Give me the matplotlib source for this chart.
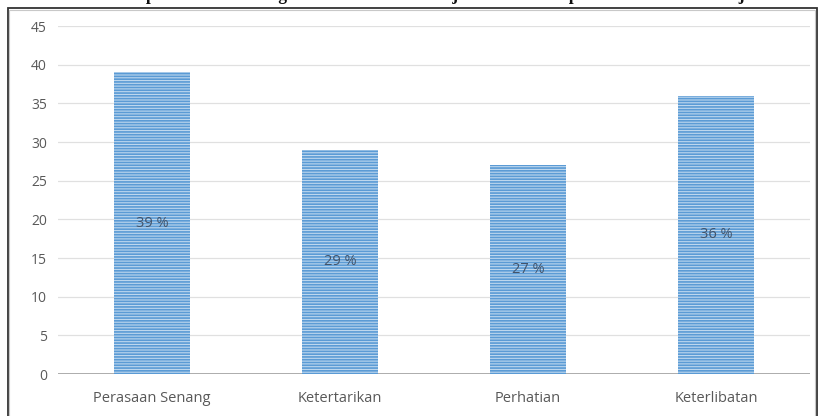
import matplotlib
matplotlib.use("Agg")
import matplotlib.pyplot as plt
from matplotlib.patches import Rectangle

categories = ["Perasaan Senang", "Ketertarikan", "Perhatian", "Keterlibatan"]
values = [39, 29, 27, 36]
bar_labels = ["39 %", "29 %", "27 %", "36 %"]
yticks = [0, 5, 10, 15, 20, 25, 30, 35, 40, 45]
title = "Hasil Respon Siswa Tentang Indikator Minat Belajar Siswa SMA pada Materi Kalor Objek"

W, H = 820, 416
plt.rcParams['font.family'] = ['Open Sans', 'DejaVu Sans']
plt.rcParams['hatch.linewidth'] = 1.2

fig = plt.figure(figsize=(W / 100, H / 100), dpi=100)
ax = fig.add_axes([58 / W, 42 / H, 752 / W, 348 / H])

x = list(range(len(categories)))
bars = ax.bar(x, values, width=0.4, color='#BDD7EE', edgecolor='#5B9BD5',
              hatch='------', linewidth=0, zorder=3)
for xi, v, lab in zip(x, values, bar_labels):
    ax.text(xi, v / 2, lab, ha='center', va='center', fontsize=10.5,
            color='#44546A', zorder=4)

ax.set_xlim(-0.5, len(categories) - 0.5)
ax.set_ylim(0, 45)
ax.set_yticks(yticks)
ax.set_xticks(x)
ax.set_xticklabels(categories, fontsize=10.5)
ax.tick_params(axis='both', length=0, labelcolor='#595959')
ax.tick_params(axis='y', labelsize=10, pad=8)
ax.tick_params(axis='x', pad=12)
ax.yaxis.grid(True, color='#E0E0E0', linewidth=0.9, zorder=0)
ax.set_axisbelow(True)
for s in ax.spines.values():
    s.set_visible(False)
ax.axhline(0, color='#A6A6A6', linewidth=1.3, zorder=2)

# outer frame
fig.patches.append(Rectangle((8 / W, -0.05), (817 - 8) / W, 1.05 - 8 / H,
                             transform=fig.transFigure, fill=False,
                             edgecolor='#333333', linewidth=1.3))
fig.patches.append(Rectangle((9.5 / W, -0.05), (815.5 - 9.5) / W, 1.05 - 9.5 / H,
                             transform=fig.transFigure, fill=False,
                             edgecolor='#C8C8C8', linewidth=0.8))

# clipped title above the frame (only descenders visible)
fig.text(0.51, 1 - 0.5 / H, title, ha='center', va='baseline', fontsize=12.7,
         fontweight='bold', family=['Liberation Serif', 'DejaVu Serif'], color='#111111')

fig.savefig("out.png", dpi=100)
